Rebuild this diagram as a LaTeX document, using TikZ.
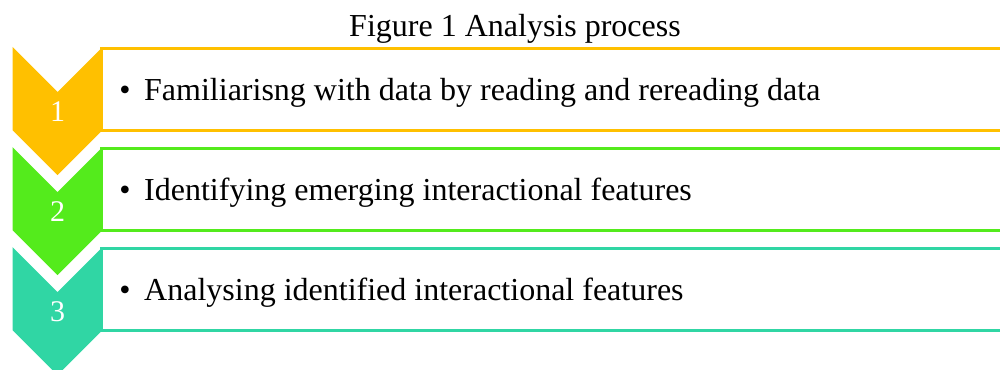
\documentclass[tikz,border=0pt]{standalone}
\usepackage{fontspec}
\setmainfont{Liberation Serif}
\usepackage{tikz}
\usetikzlibrary{
    positioning,
    calc
}
\definecolor{StepGold}{RGB}{255,192,0}
\definecolor{StepGreen}{RGB}{84,235,28}
\definecolor{StepTeal}{RGB}{48,214,164}

\begin{document}
\begin{tikzpicture}[
                    x=1pt, y=-1pt,
                    font=\fontsize{32}{38}\selectfont,
                    every node/.style={inner sep=0pt},
                ]
                  \useasboundingbox (0,0) rectangle (1000,369);
                  \def\chL{12.5}
                  \def\chR{102.5}
                  \def\chM{57.5}
                  \def\chH{83}
                  \def\tip{45}

                  % Title
                  \node[anchor=base] (title) at (515,36.7) {Figure 1 Analysis process};

                  % ---- Steps: box, chevron, number, text ----
                  \foreach \n/\col/\txt in {1/StepGold/{Familiarisng with data by reading and rereading data},
                                            2/StepGreen/{Identifying emerging interactional features},
                                            3/StepTeal/{Analysing identified interactional features}}{
                    \pgfmathsetmacro{\yT}{47+100*(\n-1)}

                    % text box (open to the right)
                    \draw[line width=3pt,\col] (\chR-1.5,\yT+1.5) rectangle (1010,\yT+83);

                    % chevron
                    \fill[\col] (\chL,\yT) -- (\chM,\yT+\tip) -- (\chR,\yT) -- (\chR,\yT+\chH)
                                -- (\chM,\yT+\chH+\tip) -- (\chL,\yT+\chH) -- cycle;
                    \node[anchor=base,white,font=\fontsize{30}{36}\selectfont] (num\n) at (\chM,\yT+74.5) {\n};

                    % bullet and text
                    \node[anchor=base] (bul\n) at (125,\yT+53) {\textbullet};
                    \node[anchor=base west] (txt\n) at (144,\yT+53) {\txt};
                  }
                \end{tikzpicture}
\end{document}
